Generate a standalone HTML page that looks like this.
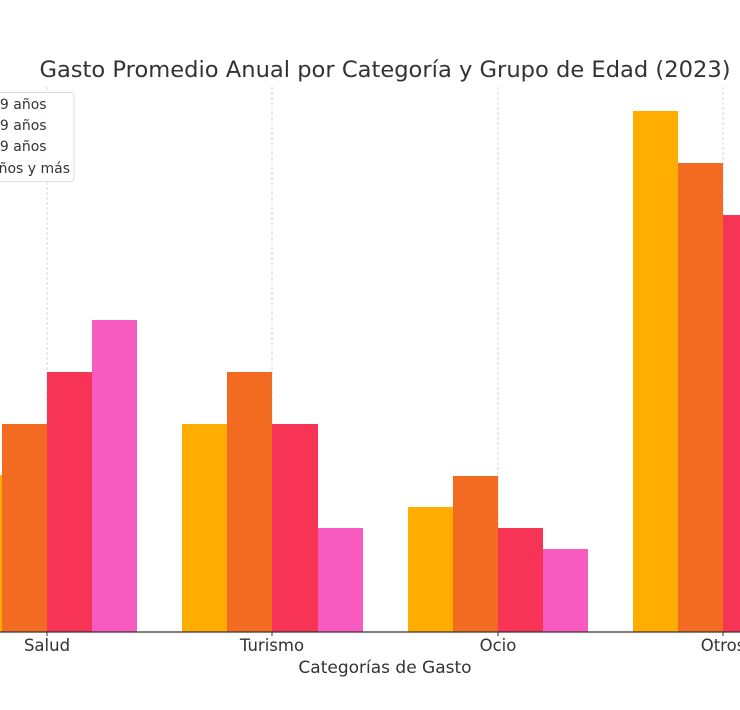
<!DOCTYPE html>
<html><head><meta charset="utf-8"><style>body{margin:0;background:#fff}svg{display:block}</style></head><body>
<svg width="740" height="710" xmlns="http://www.w3.org/2000/svg" font-family="DejaVu Sans, Liberation Sans, sans-serif">
<rect width="740" height="710" fill="#fff"/>
<g stroke="#ccc" stroke-width="0.8" stroke-dasharray="3,2">
<line x1="47" y1="87" x2="47" y2="632"/><line x1="272" y1="87" x2="272" y2="632"/>
<line x1="498" y1="87" x2="498" y2="632"/><line x1="723" y1="87" x2="723" y2="632"/>
</g>
<g>
<rect x="-43" y="475" width="45" height="157" fill="#FFAD00"/>
<rect x="2" y="424" width="45" height="208" fill="#F26B21"/>
<rect x="47" y="372" width="45" height="260" fill="#F73456"/>
<rect x="92" y="320" width="45" height="312" fill="#F75BBF"/>
<rect x="182" y="424" width="45" height="208" fill="#FFAD00"/>
<rect x="227" y="372" width="45" height="260" fill="#F26B21"/>
<rect x="272" y="424" width="46" height="208" fill="#F73456"/>
<rect x="318" y="528" width="45" height="104" fill="#F75BBF"/>
<rect x="408" y="507" width="45" height="125" fill="#FFAD00"/>
<rect x="453" y="476" width="45" height="156" fill="#F26B21"/>
<rect x="498" y="528" width="45" height="104" fill="#F73456"/>
<rect x="543" y="549" width="45" height="83" fill="#F75BBF"/>
<rect x="633" y="111" width="45" height="521" fill="#FFAD00"/>
<rect x="678" y="163" width="45" height="469" fill="#F26B21"/>
<rect x="723" y="215" width="45" height="417" fill="#F73456"/>
</g>
<line x1="0" y1="632" x2="740" y2="632" stroke="#333" stroke-width="1.2"/>
<g stroke="#333"><line x1="47" y1="632" x2="47" y2="636"/><line x1="272" y1="632" x2="272" y2="636"/><line x1="498" y1="632" x2="498" y2="636"/><line x1="723" y1="632" x2="723" y2="636"/></g>
<g font-size="16.5" fill="#333" text-anchor="middle">
<text x="47" y="651">Salud</text><text x="272" y="651">Turismo</text><text x="498" y="651">Ocio</text><text x="723" y="651">Otros</text>
<text x="385" y="673" font-size="17">Categorías de Gasto</text>
</g>
<text x="385" y="77" font-size="22.6" fill="#333" text-anchor="middle">Gasto Promedio Anual por Categoría y Grupo de Edad (2023)</text>
<rect x="-20" y="92.5" width="94" height="89" rx="3" fill="#fff" fill-opacity="0.85" stroke="#ddd"/>
<g font-size="14" fill="#333">
<text x="-9" y="109">19 años</text><text x="-9" y="130">19 años</text><text x="-9" y="151">19 años</text><text x="-10" y="173">años y más</text>
</g>
</svg>
</body></html>
